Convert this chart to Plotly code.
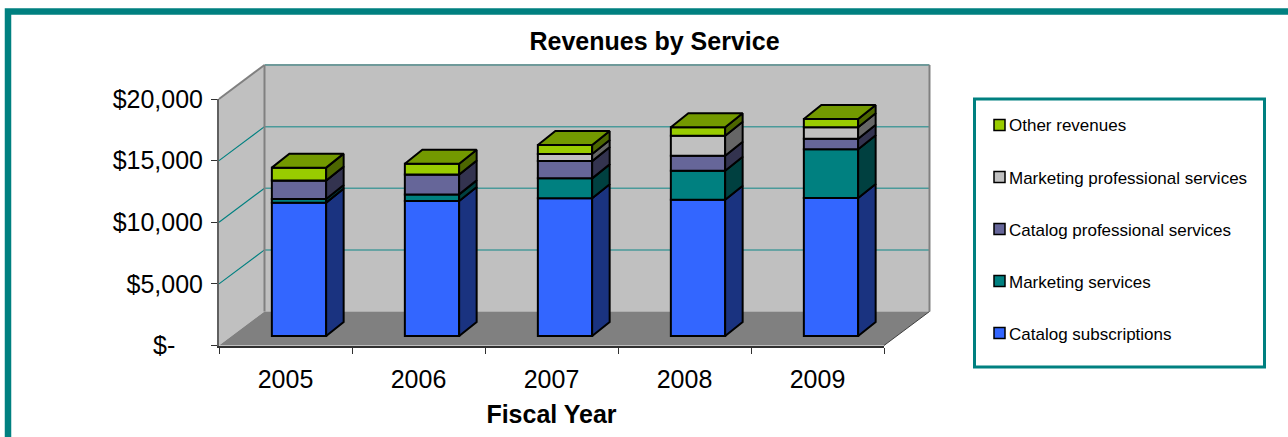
import numpy as np
import plotly.graph_objects as go

W, H = 1288, 437
years = ["2005", "2006", "2007", "2008", "2009"]
y_ticks = [0, 5000, 10000, 15000, 20000]
y_labels = ["$-\u00a0\u00a0\u00a0\u00a0", "$5,000", "$10,000", "$15,000", "$20,000"]

catalog_subscriptions = [10820, 10950, 11170, 11060, 11200]
marketing_services = [300, 540, 1620, 2350, 3950]
catalog_professional = [1490, 1620, 1400, 1220, 860]
marketing_professional = [0, 0, 570, 1620, 930]
other_revenues = [1050, 860, 730, 680, 670]

names = ["Catalog subscriptions", "Marketing services", "Catalog professional services",
         "Marketing professional services", "Other revenues"]
series = [catalog_subscriptions, marketing_services, catalog_professional,
          marketing_professional, other_revenues]
front = ["#3366FF", "#008080", "#666699", "#C0C0C0", "#99CC00"]
side = ["#1A3380", "#004040", "#33334F", "#666666", "#4C6600"]
top_col = "#739900"

# plot geometry (pixels)
X0, X1, Y0, Y20 = 219.0, 884.0, 345.5, 99.0
WALL_DX, WALL_DY = 45.5, 34.0
BAR_DX, BAR_DY = 17.5, 14.0
BAR_SHIFT_X, BAR_SHIFT_Y = 13.5, 9.5
BAR_W = 54.3
cat_px = (X1 - X0) / 5
val_px = (Y0 - Y20) / 20000

dx_u = BAR_DX / cat_px
dy_u = BAR_DY / val_px
shift_u = BAR_SHIFT_X / cat_px
base0 = BAR_SHIFT_Y / val_px
bw_u = BAR_W / cat_px
pos = np.arange(5) + shift_u

px = lambda v: Y0 - v * val_px
nx = lambda p: p / W
ny = lambda p: 1 - p / H

fig = go.Figure()
bottom = np.full(5, base0)
LW = 2
for name, vals, fc, sc in zip(names, series, front, side):
    vals = np.array(vals, float)
    fig.add_trace(go.Bar(x=pos, y=vals, base=bottom, width=bw_u, name=name,
                         marker=dict(color=fc, line=dict(color="black", width=LW)),
                         cliponaxis=False, hoverinfo="name+y", showlegend=False))
    for i in range(5):
        r = pos[i] + bw_u / 2
        xs = [r, r + dx_u, r + dx_u, r, r]
        ys = [bottom[i], bottom[i] + dy_u, bottom[i] + vals[i] + dy_u, bottom[i] + vals[i], bottom[i]]
        fig.add_trace(go.Scatter(x=xs, y=ys, mode="lines", fill="toself", fillcolor=sc,
                                 line=dict(color="black", width=LW), showlegend=False,
                                 hoverinfo="skip", cliponaxis=False))
    bottom = bottom + vals

for i in range(5):
    l, r = pos[i] - bw_u / 2, pos[i] + bw_u / 2
    t = bottom[i]
    fig.add_trace(go.Scatter(x=[l, r, r + dx_u, l + dx_u, l], y=[t, t, t + dy_u, t + dy_u, t],
                             mode="lines", fill="toself", fillcolor=top_col,
                             line=dict(color="black", width=LW), showlegend=False,
                             hoverinfo="skip", cliponaxis=False))

shapes = []
def poly(pts, fill, line=None, w=0):
    d = "M" + "L".join(f"{nx(a):.5f},{ny(b):.5f}" for a, b in pts) + "Z"
    shapes.append(dict(type="path", xref="paper", yref="paper", path=d, fillcolor=fill,
                       line=dict(color=line or fill, width=w), layer="below"))
def seg(a, b, col, w):
    shapes.append(dict(type="line", xref="paper", yref="paper", x0=nx(a[0]), y0=ny(a[1]),
                       x1=nx(b[0]), y1=ny(b[1]), line=dict(color=col, width=w), layer="below"))

bx0, bx1 = X0 + WALL_DX, X1 + WALL_DX
poly([(X0, Y0), (bx0, Y0 - WALL_DY), (bx0, Y20 - WALL_DY), (X0, Y20)], "#C0C0C0")
poly([(bx0, Y0 - WALL_DY), (bx1, Y0 - WALL_DY), (bx1, Y20 - WALL_DY), (bx0, Y20 - WALL_DY)], "#C0C0C0")
poly([(X0, Y0), (X1, Y0), (bx1, Y0 - WALL_DY), (bx0, Y0 - WALL_DY)], "#808080")
for v in y_ticks[1:-1]:
    seg((X0, px(v)), (bx0, px(v) - WALL_DY), "#008080", 1.2)
    seg((bx0, px(v) - WALL_DY), (bx1, px(v) - WALL_DY), "#4a9a9a", 1.5)
seg((X0, Y20), (bx0, Y20 - WALL_DY), "#808080", 2)
seg((bx0, Y20 - WALL_DY), (bx1, Y20 - WALL_DY), "#6f9a9a", 2)
seg((bx0, Y20 - WALL_DY), (bx0, Y0 - WALL_DY), "#808080", 2)
seg((bx1, Y20 - WALL_DY), (bx1, Y0 - WALL_DY), "#808080", 2)
seg((X1, Y0), (bx1, Y0 - WALL_DY), "#404040", 1)

# outer frame and legend box
shapes.append(dict(type="rect", xref="paper", yref="paper", x0=nx(8), x1=nx(1292), y0=ny(11.5), y1=ny(470),
                   line=dict(color="#008080", width=6.5), layer="below"))
shapes.append(dict(type="rect", xref="paper", yref="paper", x0=nx(974.5), x1=nx(1264.5), y0=ny(99), y1=ny(367),
                   line=dict(color="#008080", width=3), layer="below"))

FONT = "Liberation Sans, Arial, sans-serif"
annotations = []
LEG_Y = [333, 281, 229, 177, 125]
for name, fc, ly in zip(names, front, LEG_Y):
    shapes.append(dict(type="rect", xref="paper", yref="paper", x0=nx(994), x1=nx(1005),
                       y0=ny(ly - 5.5), y1=ny(ly + 5.5), fillcolor=fc,
                       line=dict(color="black", width=1.5), layer="above"))
    annotations.append(dict(xref="paper", yref="paper", x=nx(1007), y=ny(ly + 1), text=name,
                            showarrow=False, xanchor="left", yanchor="middle",
                            font=dict(size=17, family=FONT, color="black")))

fig.update_layout(
    width=W, height=H, margin=dict(l=0, r=0, t=0, b=0, pad=0),
    paper_bgcolor="white", plot_bgcolor="rgba(0,0,0,0)",
    barmode="overlay", shapes=shapes, annotations=annotations,
    font=dict(family=FONT, color="black"),
    title=dict(text="<b>Revenues by Service</b>", font=dict(size=25, family=FONT, color="black"),
               x=654.5 / W, xref="paper", xanchor="center", y=ny(41), yref="paper", yanchor="middle",
               automargin=False),
    xaxis=dict(domain=[nx(X0), nx(X1)], range=[-0.5, 4.5], tickmode="array", automargin=False,
               tickvals=list(range(5)), ticktext=years, ticks="", ticklen=0,
               tickfont=dict(size=25), showgrid=False, zeroline=False, fixedrange=True,
               showline=True, linecolor="#303030", linewidth=2, ticklabelstandoff=10,
               minor=dict(tickmode="array", tickvals=[i - 0.5 for i in range(6)], ticks="outside",
                          ticklen=6, tickwidth=1, tickcolor="#303030", showgrid=False),
               title=dict(text="<b>Fiscal Year</b>", font=dict(size=25), standoff=14)),
    yaxis=dict(domain=[ny(Y0), ny(Y20)], range=[0, 20000], tickmode="array", tickvals=y_ticks,
               automargin=False, ticktext=y_labels, ticks="outside", ticklen=6, tickwidth=1,
               tickcolor="#303030", tickfont=dict(size=25), showgrid=False, zeroline=False,
               fixedrange=True, showline=True, linecolor="#606060", linewidth=2, ticklabelstandoff=3),
    showlegend=False,
)
fig.write_html("out.html", config={"displayModeBar": False},
               post_script="document.body.style.margin='0';document.documentElement.style.overflow='hidden';")
